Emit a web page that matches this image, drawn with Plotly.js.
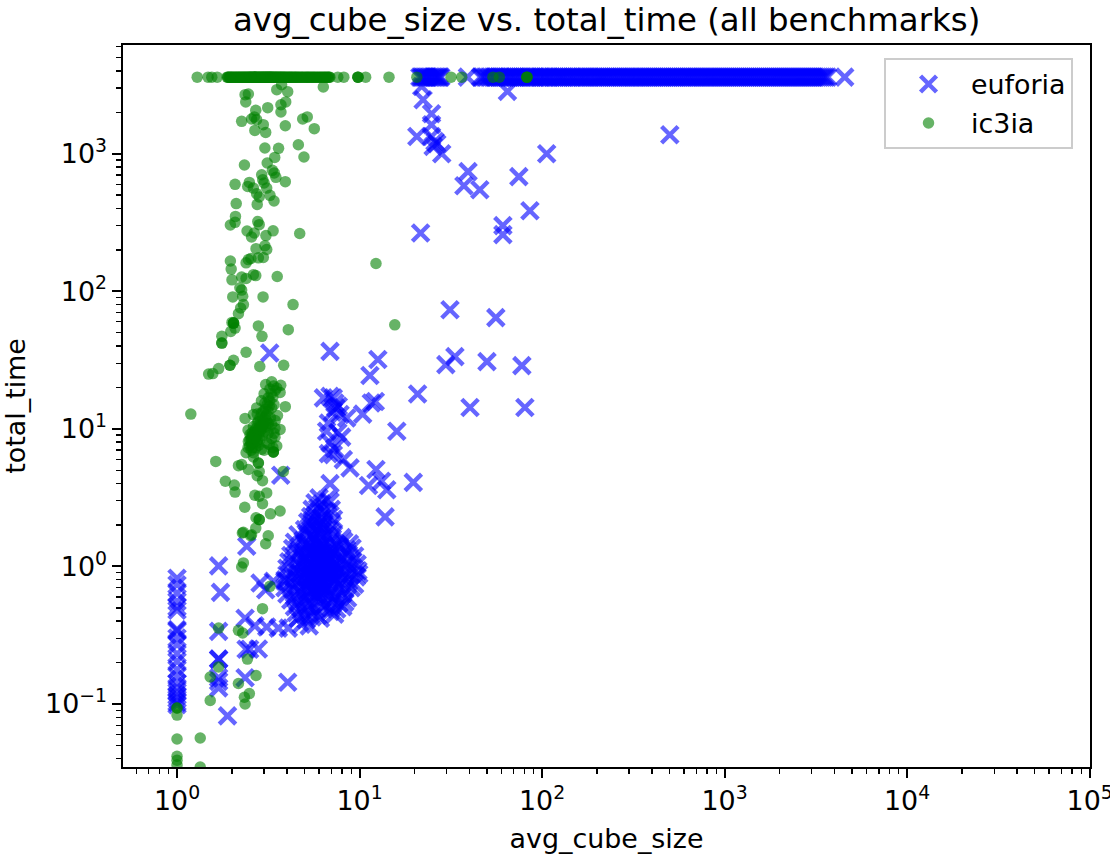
<!DOCTYPE html>
<html>
<head>
<meta charset="utf-8">
<script src="https://cdn.plot.ly/plotly-3.0.1.min.js"></script>
<style>html,body{margin:0;padding:0;background:#fff}#chart{width:1110px;height:854px}</style>
</head>
<body>
<div id="chart"></div>
<script>
var timeout = 3600;

var euforiaTimeoutX = [21.4,21.8,22.2,22.7,23.1,23.6,24,24.5,25,25.5,26,26.5,27,27.5,27.9,39,
46,47,48.5,49.5,51,52,53.5,55,56,57.5,59,60,62,63.5,65,66.5,68,70,71.5,73,75,77,79,81,83,85,87,89,91,93,96,98,100,103,105,108,110,113,116,119,122,125,128,131,134,138,141,145,148,152,156,160,164,168,172,176,181,185,190,195,200,205,210,215,220,226,231,237,243,249,255,262,268,275,282,289,296,304,311,319,327,335,344,352,361,370,380,389,399,409,419,430,441,452,463,475,487,499,512,525,538,551,565,580,594,609,625,640,656,673,690,707,725,744,762,782,801,822,842,864,885,908,931,954,978,1003,1028,1054,1081,1108,1136,1165,1194,1224,1255,1287,1320,1353,1387,1422,1458,1495,1533,1571,1611,1652,1693,1736,1780,1825,1871,1918,1967,2016,2067,2120,2173,2228,2284,2342,2401,2462,2524,2588,2653,2720,2789,2860,2932,3006,3082,3160,3240,3322,3405,3491,3580,3670,4550];

var euforiaUpper = [[21.9,3080],[22.3,2467],[24.8,1950],[20.6,1334],[24.8,1622],[24.8,1334],[25.9,1226],[25.3,1130],[26.5,1180],[28.2,1000],[21.6,265],[39.3,740],[37.3,585],[45.6,547],[74.6,681],[106,1000],[64.6,2838],[501,1374],[61,300],[61,258],[85.8,385],[31.3,73.4],[55.8,64.3],[33.3,33.5],[29.7,29.3],[49.9,30.8],[77.5,28.8],[40.3,14.3],[80.5,14.3]];

var euforiaMiddle = [[3.22,35.6],[6.89,36.6],[12.6,31.9],[11.4,24.4],[20.8,17.9],[6.34,16.8],[7.18,16.8],[7.33,15.4],[7.65,14.6],[6.89,17.2],[7.82,12.7],[8.5,12],[6.75,11],[6.6,9.6],[7.98,8.7],[6.89,7.9],[7.18,6.5],[6.75,6.6],[8.15,5.97],[8.87,5.2],[12.2,15.8],[11.6,15.4],[10.4,12.8],[16,9.6],[3.7,4.6],[12.3,5.06],[11.2,3.87],[13.2,4.16],[14.1,3.61],[19.7,4.08],[13.8,2.29],[6.89,4],[7.4,14.2],[7.1,13.2],[7.6,9.4],[7.3,7.2]];

var euforiaFirstColumn = [0.82,0.736,0.64,0.557,0.507,0.48,0.347,0.34,0.302,0.27,0.232,0.204,0.178,0.159,0.142,0.131,0.122,0.115,0.109,0.103,0.099];

var euforiaLower = [[1.69,1.01],[1.73,0.648],[1.69,0.337],[1.69,0.212],[1.69,0.212],[1.69,0.155],[1.69,0.146],[1.69,0.131],[1.89,0.082],[2.41,1.4],[2.36,0.42],[2.67,0.37],[2.39,0.25],[2.5,0.25],[2.79,0.251],[2.36,0.155],[2.85,0.757],[3.06,0.677],[3.37,0.78],[3.1,0.363],[3.59,0.356],[4.07,0.356],[4.04,0.144],[3.91,0.8]];

var euforiaCloud = [[6.0,3.15],[6.6,3.05],[5.7,2.9],[6.2,2.85],[6.9,2.95],[5.5,2.6],[5.9,2.65],[6.4,2.52],[7.0,2.6],[5.4,2.3],[5.7,2.35],[6.2,2.25],[6.7,2.32],[7.2,2.2],
[5.2,2.1],[5.5,2.15],[6.0,2.05],[6.5,2.12],[7.1,2.0],[5.0,1.85],[5.3,1.9],[5.8,1.82],[6.3,1.88],[6.9,1.8],[4.6,1.7],[5.1,1.74],[5.5,1.66],[6.0,1.72],[6.6,1.68],[7.2,1.7],[8.0,1.62],
[4.4,1.5],[4.9,1.54],[5.3,1.47],[5.8,1.52],[6.3,1.46],[6.9,1.5],[7.5,1.44],[8.2,1.52],[8.8,1.46],[4.3,1.35],[4.7,1.31],[5.2,1.37],[5.6,1.32],[6.1,1.36],[6.6,1.3],[7.1,1.34],[7.8,1.38],[8.5,1.32],[9.1,1.36],
[4.2,1.2],[4.6,1.23],[5.0,1.17],[5.4,1.22],[5.9,1.19],[6.4,1.24],[6.9,1.16],[7.4,1.21],[8.0,1.18],[8.7,1.22],[9.4,1.19],[4.1,1.08],[4.5,1.05],[4.9,1.1],[5.3,1.06],[5.8,1.09],[6.2,1.04],[6.7,1.08],[7.3,1.05],[7.9,1.1],[8.5,1.06],[9.2,1.09],[9.7,1.04],
[4.0,0.97],[4.4,0.95],[4.8,0.99],[5.2,0.93],[5.7,0.97],[6.1,0.92],[6.6,0.98],[7.1,0.94],[7.7,0.96],[8.3,0.92],[9.0,0.97],[9.8,0.93],[4.0,0.87],[4.3,0.85],[4.7,0.89],[5.1,0.84],[5.5,0.88],[6.0,0.83],[6.5,0.87],[7.0,0.85],[7.6,0.89],[8.2,0.83],[8.9,0.87],[9.6,0.84],[9.9,0.88],
[3.9,0.78],[4.2,0.76],[4.6,0.8],[5.0,0.75],[5.4,0.79],[5.9,0.74],[6.4,0.78],[6.9,0.75],[7.4,0.8],[8.0,0.76],[8.7,0.78],[9.4,0.74],[3.9,0.7],[4.3,0.68],[4.7,0.71],[5.1,0.67],[5.5,0.7],[6.0,0.66],[6.5,0.69],[7.1,0.67],[7.7,0.71],[8.3,0.68],[9.0,0.7],
[4.0,0.63],[4.4,0.61],[4.8,0.64],[5.2,0.6],[5.7,0.63],[6.2,0.59],[6.8,0.62],[7.4,0.6],[8.0,0.63],[8.6,0.59],[4.2,0.57],[4.6,0.55],[5.0,0.58],[5.4,0.54],[5.9,0.57],[6.5,0.53],[7.1,0.56],[7.7,0.54],[8.3,0.55],
[4.4,0.51],[4.8,0.5],[5.2,0.52],[5.7,0.49],[6.3,0.51],[7.0,0.5],[7.5,0.49],[8.1,0.51],[4.5,0.46],[5.0,0.45],[5.4,0.47],[5.9,0.44],[6.9,0.47],[7.3,0.45],[4.6,0.42],[5.1,0.41],[5.5,0.43],[6.1,0.42],[4.8,0.38],[5.3,0.37],
[5.0,1.45],[5.45,1.4],[5.95,1.42],[6.45,1.38],[5.1,1.28],[5.55,1.25],[6.05,1.28],[6.55,1.22],[7.05,1.26],[5.15,1.13],[5.6,1.14],[6.1,1.11],[6.6,1.13],[7.1,1.1],[5.05,1.0],[5.5,1.02],[6.0,0.99],[6.45,1.01],[6.95,1.0],[7.5,1.01],[5.0,0.9],[5.4,0.91],[5.85,0.89],[6.3,0.91],[6.8,0.9],[7.3,0.89],[4.85,0.82],[5.3,0.81],[5.75,0.82],[6.2,0.8],[6.7,0.82],[7.2,0.8],[5.25,0.72],[5.7,0.71],[6.2,0.72],[6.65,0.71],[5.4,0.65],[5.9,0.64],[6.4,0.65],[5.5,2.0],[5.9,1.95],[6.3,2.0],[5.7,1.6],[6.2,1.58]];

var ic3iaTimeoutX = [1.29,1.48,1.55,1.66,1.88,1.9,1.91,1.93,1.95,1.97,1.98,2,2.02,2.04,2.06,2.08,2.1,2.12,2.14,2.16,2.18,2.2,2.22,2.24,2.26,2.28,2.3,2.32,2.34,2.36,2.38,2.4,2.42,2.44,2.46,2.48,2.5,2.51,2.53,2.55,2.56,2.58,2.6,2.62,2.64,2.65,2.67,2.69,2.7,2.72,2.74,2.76,2.78,2.8,2.82,2.84,2.86,2.88,2.9,2.92,2.94,2.96,2.98,3,3.02,3.04,3.06,3.08,3.1,3.12,3.14,3.16,3.18,3.2,3.22,3.24,3.26,3.28,3.3,3.32,3.35,3.37,3.4,3.42,3.45,3.48,3.5,3.53,3.56,3.59,3.62,3.65,3.68,3.71,3.74,3.77,3.8,3.84,3.87,3.9,3.94,3.98,4.02,4.06,4.1,4.14,4.18,4.22,4.26,4.3,4.35,4.4,4.44,4.48,4.53,4.58,4.63,4.68,4.74,4.8,4.85,4.9,4.97,5.03,5.09,5.15,5.2,5.26,5.32,5.38,5.45,5.5,5.58,5.64,5.7,5.78,5.85,5.92,6,6.07,6.15,6.22,6.3,6.38,6.45,6.52,6.6,6.68,6.75,6.82,6.88,7.6,8.2,9.8,9.8,9.8,10.8,14.5,20.6,31.7,36.3,53.8,58.3,82.6,82.6,82.6];

var ic3iaPoints = [[6.33,3055],[3.74,3170],[3.52,2920],[4.04,2825],[2.46,2716],[2.36,2685],[2.38,2378],[3.94,2378],[3.71,2270],[3.14,2160],[3.71,2010],[2.7,2065],[2.65,1850],[2.56,1788],[2.73,1767],[2.26,1718],[4.88,1788],[5.17,1850],[2.97,1625],[3.92,1596],[5.65,1520],[2.67,1476],[3.06,1428],[4.62,1162],[3.03,1100],[3.6,1094],[4.96,946],[3.43,940],[3.12,855],[2.34,828],[3.33,757],[2.91,703],[3.41,725],[3.48,673],[2.95,647],[3,612],[3.92,626],[2.08,599],[2.49,618],[2.44,578],[2.62,562],[3.1,562],[2.73,512],[2.82,484],[3.23,498],[3.4,453],[2.75,428],[2.11,434],[2.09,350],[2.08,317],[1.96,303],[2.77,321],[2.82,305],[3.36,275],[2.42,274],[2.65,265],[2.56,248],[3.07,254],[4.7,263],[3.03,214],[2.71,204],[3.1,201],[2.97,176],[2.79,175],[2.54,173],[2.46,170],[2.39,161],[1.96,166],[12.3,159],[1.98,145],[2.62,132],[2.7,130],[2.26,127],[2.39,124],[3.54,128],[2,121],[2.21,106],[2.26,102],[2.02,91],[2.29,92],[2.96,91],
[2.31,80],[4.32,80],[2.23,75.5],[2.17,68.7],[2.04,58.7],[2.04,58.7],[2.04,58.7],[2,59.4],[2.08,54],[1.97,51],[2.79,56],[4.07,52.6],[15.6,57],[2.92,47],[1.76,47],[1.76,42],[1.76,42],[2.39,36],[2.04,31.5],[1.95,29],[1.95,29],[1.69,27.4],[1.49,25],[1.57,25.2],[2.84,28.4],[3.84,29],[1.19,12.8],[3.92,14.5],[2.36,11.9],
[3.06,21],[3.3,22],[3.7,20.7],[3.52,19.8],[3.23,19.5],[3.67,18.4],[3.16,16.8],[3.03,15.4],[3.3,14.2],[2.73,14.2],[2.97,13.4],[2.62,12.7],[3.1,12.7],[3.55,12.5],[2.79,11.3],[3.16,11],[2.97,10.7],[2.62,10.4],[3.44,10.1],[3.67,9.9],[2.85,9.6],[2.51,9.1],[3.16,9.3],[3.44,8.7],[2.62,8.6],[2.46,8.1],[2.85,8.4],[3.1,7.9],[2.56,7.7],[3.52,7.5],[2.39,6.7],[2.62,6.7],[2.91,7.1],[3.37,6.8],[3.37,6.8],[3.37,6.8],[2.62,6.25],
[3.38,20.5],[3.45,19],[3.28,18],[3.35,17],[3.22,16],[3.12,15],[3.2,14.6],[3.05,13.9],[3.15,13.5],[2.9,13],[3.05,12.2],[2.85,12],[2.95,11.6],[2.75,11],[2.85,10.8],[3.05,10.4],[2.7,10],[2.9,10],[2.75,9.6],[3,9.5],[2.65,9.3],[2.8,9.1],[2.95,8.9],[2.55,8.8],[2.7,8.6],[2.55,8.4],[2.65,8],[2.75,7.9],[2.5,7.5],[2.6,7.3],[2.7,7.3],[2.5,8.3],[2.58,9.4],[2.68,9.7],[3.1,11.4],[3.25,12],[3.3,10.8],[3.4,9.3],[3.3,8.5],[3.2,7.7],
[3.0,18],[2.9,16],[3.4,15],[2.75,12.8],[3.2,10.2],[3.45,11.5],[2.45,9.8],[3.35,7.3],[2.8,7.6],[3.0,7.0],[2.55,7.0],[2.45,7.3],[2.6,9],[2.7,8.8],[2.8,9.8],[2.9,10.5],[3,11],[2.55,8],[2.65,8.5],[2.75,8.2],
[1.63,5.8],[2.17,5.4],[2.26,5.5],[2.46,5.06],[2.79,5.65],[2.79,5.65],[2.82,4.9],[3.82,4.9],[2.75,4.57],[2.94,4.2],[1.84,4.16],[2.06,3.9],[2.08,3.47],[2.67,3.29],[3.1,3.42],[2.82,3.24],[2.94,2.86],[2.35,2.69],[3.67,2.53],[3.25,2.41],[2.71,2.26],[2.82,2.19],[2.82,2.19],[2.7,1.9],[2.31,1.77],[2.56,1.7],[3.16,1.67],
[2.28,1.75],[2.53,1.67],[3.06,1.46],[2.31,1.06],[2.26,0.99],[3.23,0.716],[2.94,0.493],[1.69,0.356],[2.17,0.343],[2.29,0.328],[2.43,0.212],[1.69,0.186],[1.52,0.157],[2.71,0.161],[2.17,0.141],[2.49,0.119],[2.34,0.112],[1.52,0.106],[2.36,0.1],[1,0.0935],[1,0.0935],[1,0.083],[1,0.0557],[1.34,0.0566],[1,0.0417],[1,0.039],[1,0.036],[1.34,0.0348]];

var xDecades = [0,1,2,3,4,5];
var yDecades = [-1,0,1,2,3];

function decadeTicks(decades) { return decades.map(function (p) { return Math.pow(10, p); }); }
function decadeText(decades) {
  return decades.map(function (p) { return '10<sup>' + (p < 0 ? '\u2212' + (-p) : p) + '</sup>'; });
}
function minorTicks(low, high) {
  var out = [];
  for (var p = low; p <= high; p++) for (var m = 2; m <= 9; m++) out.push(m * Math.pow(10, p));
  return out;
}
function xs(a) { return a.map(function (d) { return d[0]; }); }
function ys(a) { return a.map(function (d) { return d[1]; }); }

var euforiaPairs = euforiaUpper.concat(euforiaMiddle, euforiaLower, euforiaCloud);
var euforiaX = euforiaTimeoutX.concat(euforiaFirstColumn.map(function () { return 1; }), xs(euforiaPairs));
var euforiaY = euforiaTimeoutX.map(function () { return timeout; }).concat(euforiaFirstColumn, ys(euforiaPairs));
var ic3iaX = ic3iaTimeoutX.concat(xs(ic3iaPoints));
var ic3iaY = ic3iaTimeoutX.map(function () { return timeout; }).concat(ys(ic3iaPoints));

var font = 'DejaVu Sans, sans-serif';

function axis(titleText, range, decades, low, high, standoff) {
  return {
    type: 'log', range: range, autorange: false,
    title: {text: titleText, font: {family: font, size: 26.9, color: '#000'}, standoff: standoff},
    tickmode: 'array', tickvals: decadeTicks(decades), ticktext: decadeText(decades),
    ticks: 'outside', ticklen: 8.4, tickwidth: 2, tickcolor: '#000', ticklabeloverflow: 'allow',
    tickfont: {family: font, size: 26.9, color: '#000'},
    minor: {ticks: 'outside', ticklen: 4.8, tickwidth: 1.4, tickcolor: '#000', tickmode: 'array', tickvals: minorTicks(low, high), showgrid: false},
    showgrid: false, zeroline: false,
    showline: true, linecolor: '#000', linewidth: 2.2, mirror: true
  };
}

Plotly.newPlot('chart', [
  {name: 'euforia', legendgroup: 'a', x: euforiaX, y: euforiaY, mode: 'markers', type: 'scatter',
   marker: {symbol: 'x-thin', size: 16.5, opacity: 0.6, color: 'blue', line: {color: 'blue', width: 4.4}}},
  {name: 'ic3ia', legendgroup: 'b', x: ic3iaX, y: ic3iaY, mode: 'markers', type: 'scatter',
   marker: {symbol: 'circle', size: 11.5, opacity: 0.6, color: 'green', line: {width: 0}}}
], {
  width: 1110, height: 854,
  margin: {l: 123, r: 20, t: 45, b: 87},
  paper_bgcolor: '#fff', plot_bgcolor: '#fff',
  title: {text: 'avg_cube_size vs. total_time (all benchmarks)', font: {family: font, size: 32.4, color: '#000'},
          x: 0.5465, xanchor: 'center', y: 0.977, yanchor: 'middle'},
  xaxis: axis('avg_cube_size', [-0.296, 5.002], xDecades, -1, 4, 14),
  yaxis: axis('total_time', [-1.458, 3.79], yDecades, -2, 3, 17),
  showlegend: true,
  legend: {x: 0.787, y: 0.982, xanchor: 'left', yanchor: 'top', bgcolor: 'rgba(255,255,255,0.8)',
           bordercolor: '#ccc', borderwidth: 2, font: {family: font, size: 26.9, color: '#000'},
           itemwidth: 75, entrywidth: 100, tracegroupgap: 1, itemclick: false}
}, {displayModeBar: false, staticPlot: true});
</script>
</body>
</html>
